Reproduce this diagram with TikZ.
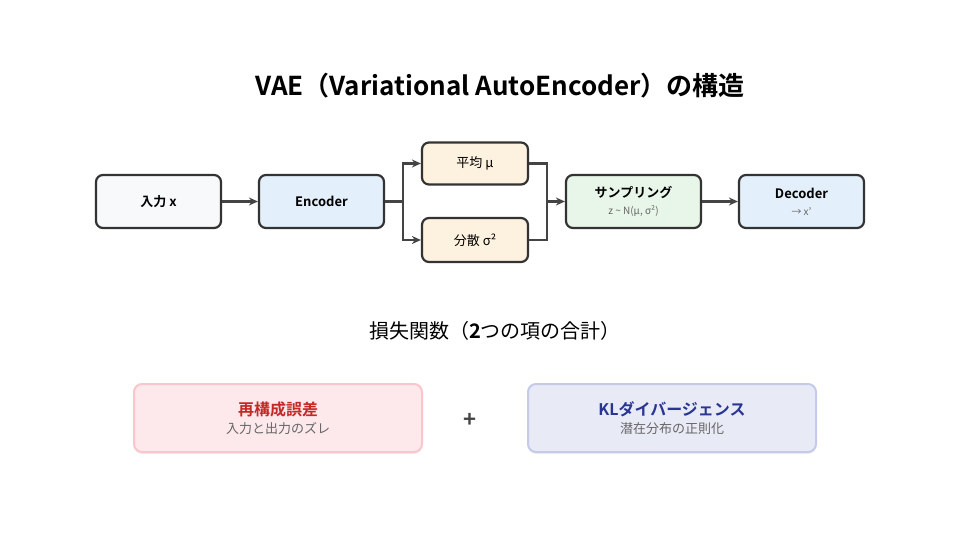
\documentclass[tikz,border=0pt]{standalone}
\usepackage{fontspec}
\setmainfont{Noto Sans CJK JP}[BoldFont={Noto Sans CJK JP Bold}]
\usetikzlibrary{arrows.meta,shadows}
\definecolor{edge}{HTML}{333333}
\definecolor{arr}{HTML}{444444}
\definecolor{fin}{HTML}{F8F9FB}
\definecolor{fblue}{HTML}{E3F0FB}
\definecolor{forange}{HTML}{FDF1DF}
\definecolor{fgreen}{HTML}{E8F5E9}
\definecolor{fred}{HTML}{FDE8EB}
\definecolor{bred}{HTML}{F9C6CC}
\definecolor{tred}{HTML}{C62828}
\definecolor{fkl}{HTML}{E8EAF6}
\definecolor{bkl}{HTML}{C5CAE9}
\definecolor{tkl}{HTML}{283593}
\definecolor{tgray}{HTML}{666666}
\tikzset{
  flowbox/.style={draw=edge, line width=2.2pt, rounded corners=7pt, align=center, inner sep=0pt},
  lossbox/.style={line width=2pt, rounded corners=8pt, align=center, inner sep=0pt,
     drop shadow={opacity=0.12, shadow xshift=0pt, shadow yshift=-2pt}},
  conn/.style={draw=arr, line width=2.2pt, -{Stealth[length=9pt,width=8pt]}},
  plain/.style={draw=arr, line width=2.2pt},
}
\begin{document}
\begin{tikzpicture}[x=1pt,y=-1pt]
\useasboundingbox[fill=white] (0,0) rectangle (960,540);
\node (title) at (500,86) {\fontsize{26}{30}\selectfont\bfseries VAE（Variational AutoEncoder）の構造};

\node[flowbox, fill=fin, minimum width=125pt, minimum height=53pt] (in) at (158.5,201.5) {\fontsize{13}{15}\selectfont\bfseries 入力 x};
\node[flowbox, fill=fblue, minimum width=125pt, minimum height=53pt] (enc) at (321.5,201.5) {\fontsize{13}{15}\selectfont\bfseries Encoder};
\node[flowbox, fill=forange, minimum width=106pt, minimum height=42pt] (mu) at (475,163.5) {\fontsize{13}{15}\selectfont 平均 μ};
\node[flowbox, fill=forange, minimum width=106pt, minimum height=44pt] (sig) at (475,240) {\fontsize{13}{15}\selectfont 分散 σ²};
\node[flowbox, fill=fgreen, minimum width=135pt, minimum height=53pt] (samp) at (633.5,201.5) {\fontsize{13}{15}\selectfont\bfseries サンプリング\\[5pt]\fontsize{10}{12}\selectfont\mdseries\color{tgray} z \textasciitilde{} N(μ, σ²)};
\node[flowbox, fill=fblue, minimum width=125pt, minimum height=53pt] (dec) at (801.5,201.5) {\fontsize{13}{15}\selectfont\bfseries Decoder\\[5pt]\fontsize{10}{12}\selectfont\mdseries\color{tgray} → x'};

\coordinate (split) at (403,201.5);
\coordinate (merge) at (547,201.5);
\draw[conn] (in) -- (enc);
\draw[plain] (enc.east) -- (split);
\draw[conn] (split) |- (mu.west);
\draw[conn] (split) |- (sig.west);
\draw[plain] (mu.east) -| (merge);
\draw[plain] (sig.east) -| (merge);
\draw[conn] (merge) -- (samp.west);
\draw[conn] (samp) -- (dec);

\node (loss) at (495,331) {\fontsize{20}{24}\selectfont 損失関数（\textbf{2}つの項の合計）};

\node[lossbox, draw=bred, fill=fred, minimum width=288pt, minimum height=68pt] (rec) at (278,418) {\fontsize{16}{18}\selectfont\bfseries\color{tred} 再構成誤差\\[4pt]\fontsize{13}{15}\selectfont\mdseries\color{tgray} 入力と出力のズレ};
\node[lossbox, draw=bkl, fill=fkl, minimum width=288pt, minimum height=68pt] (kl) at (672,418) {\fontsize{16}{18}\selectfont\bfseries\color{tkl} KLダイバージェンス\\[4pt]\fontsize{13}{15}\selectfont\mdseries\color{tgray} 潜在分布の正則化};
\node[text=arr] (plus) at (470,420) {\fontsize{22}{26}\selectfont\bfseries +};
\end{tikzpicture}
\end{document}
